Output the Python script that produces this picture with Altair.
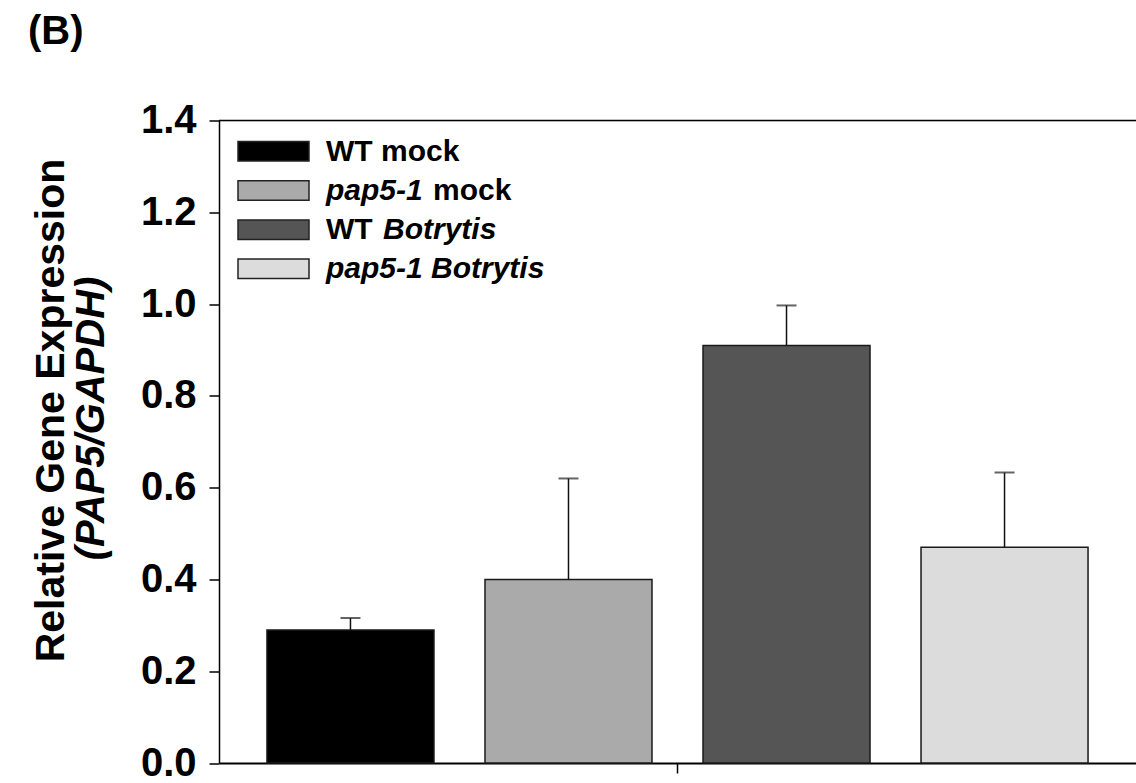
import altair as alt
import pandas as pd

# Relative PAP5 expression (normalised to GAPDH) per genotype/treatment
conditions = ["WT mock", "pap5-1 mock", "WT Botrytis", "pap5-1 Botrytis"]
means = [0.29, 0.40, 0.91, 0.47]
errors = [0.026, 0.22, 0.087, 0.163]
fills = ["#000000", "#aaaaaa", "#555555", "#dcdcdc"]
y_ticks = [0.0, 0.2, 0.4, 0.6, 0.8, 1.0, 1.2, 1.4]

FONT = "Liberation Sans"
W, H = 917, 642.5

df = pd.DataFrame({
    "grp": ["all"] * len(conditions),
    "cond": conditions,
    "mean": means,
    "upper": [m + e for m, e in zip(means, errors)],
})

x_enc = alt.X("grp:N", scale=alt.Scale(paddingInner=0, paddingOuter=0),
              axis=alt.Axis(labels=False, title=None, tickSize=10, tickWidth=1.5,
                            tickColor="black", domainColor="black", domainWidth=2))
xo_enc = alt.XOffset("cond:N", sort=conditions,
                     scale=alt.Scale(domain=conditions, paddingInner=0.234, paddingOuter=0.22))
y_scale = alt.Scale(domain=[0, 1.4], nice=False, zero=True)

base = alt.Chart(df)

bars = base.mark_bar(stroke="#1a1a1a", strokeWidth=1.5).encode(
    x=x_enc,
    xOffset=xo_enc,
    y=alt.Y("mean:Q", scale=y_scale,
            axis=alt.Axis(values=y_ticks, format=".1f", title=None, grid=False,
                          tickSize=10, tickWidth=1.5, tickColor="black",
                          domainColor="black", domainWidth=1.5,
                          labelFont=FONT, labelFontSize=40, labelFontWeight="bold",
                          labelColor="black", labelPadding=13)),
    fill=alt.Fill("cond:N", scale=alt.Scale(domain=conditions, range=fills), legend=None),
)

err_line = base.mark_rule(color="#111111", strokeWidth=1.5).encode(
    x=x_enc, xOffset=xo_enc, y=alt.Y("mean:Q", scale=y_scale), y2="upper:Q"
)
err_cap = base.mark_tick(orient="horizontal", size=20, thickness=2, color="#222222").encode(
    x=x_enc, xOffset=xo_enc, y=alt.Y("upper:Q", scale=y_scale)
)

# top frame line at the upper end of the y range
top_line = alt.Chart(pd.DataFrame({"v": [1.4]})).mark_rule(color="black", strokeWidth=1.5).encode(
    y=alt.Y("v:Q", scale=y_scale)
)

one = pd.DataFrame({"a": [0]})


def label(text, x, y, size, italic=False, angle=0, align="left"):
    return alt.Chart(one).mark_text(
        text=text, font=FONT, fontSize=size, fontWeight="bold",
        fontStyle="italic" if italic else "normal", color="black",
        align=align, baseline="middle", angle=angle,
    ).encode(x=alt.value(x), y=alt.value(y))


# hand-built legend in the upper-left corner of the plot
legend_parts = [
    [("WT mock", 0, False)],
    [("pap5-1", 0, True), ("mock", 107, False)],
    [("WT", 0, False), ("Botrytis", 57, True)],
    [("pap5-1 Botrytis", 0, True)],
]
legend_layers = []
row_step = 39.2
for i, (parts, color) in enumerate(zip(legend_parts, fills)):
    top = 21 + row_step * i
    legend_layers.append(
        alt.Chart(one).mark_rect(fill=color, stroke="#222222", strokeWidth=1.5).encode(
            x=alt.value(19), x2=alt.value(90), y=alt.value(top), y2=alt.value(top + 19.5)
        )
    )
    for text, dx, ital in parts:
        legend_layers.append(label(text, 107 + dx, top + 10, 30, italic=ital))

# two-line y title, second line italic
title1 = label("Relative Gene Expression", -167, 290, 41, angle=270, align="center")
title2 = label("(PAP5/GAPDH)", -127, 298, 40, italic=True, angle=270, align="center")
panel = label("(B)", -191, -89, 40)

chart = alt.layer(
    bars, err_line, err_cap, top_line, *legend_layers, title1, title2, panel
).properties(
    width=W, height=H,
    padding={"left": 219, "top": 120.5, "right": 0, "bottom": 18},
    autosize=alt.AutoSizeParams(type="none"),
).configure_view(stroke=None).configure(background="white")

chart.save("out.html", embed_options={"renderer": "svg", "actions": False})
